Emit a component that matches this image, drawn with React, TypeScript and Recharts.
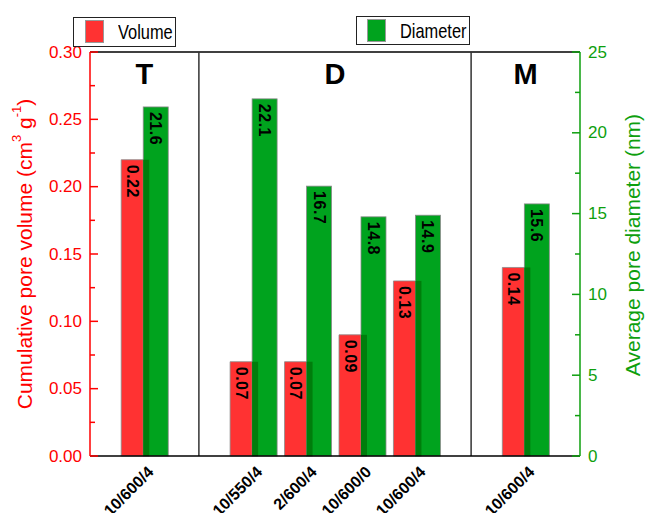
import React from "react";
import { ComposedChart, Bar, XAxis, YAxis, ReferenceLine, LabelList } from "recharts";

// sample conditions, grouped by synthesis series
const SAMPLES = ["10/600/4", "10/550/4", "2/600/4", "10/600/0", "10/600/4", "10/600/4"];
const GROUPS = ["T", "D", "D", "D", "D", "M"];
const VOLUME = [0.22, 0.07, 0.07, 0.09, 0.13, 0.14];
const DIAMETER = [21.6, 22.1, 16.7, 14.8, 14.9, 15.6];

const VOLUME_TICKS = [0, 0.05, 0.1, 0.15, 0.2, 0.25, 0.3];
const VOLUME_MINOR = [0.025, 0.075, 0.125, 0.175, 0.225, 0.275];
const DIAMETER_TICKS = [0, 5, 10, 15, 20, 25];
const DIAMETER_MINOR = [2.5, 7.5, 12.5, 17.5, 22.5];

const VOL_MAX = 0.3;
const DIA_MAX = 25;

const RED = "#FF3232";
const GREEN = "#00A31E";
const DARK_GREEN = "#007D0C";
const AXIS_RED = "#FF0000";
const AXIS_GREEN = "#0E9F0E";
const OVERLAP = 6;
const FONT = "'Liberation Sans', Arial, sans-serif";

// one empty slot between groups and at both ends
let slot = 0;
const data = SAMPLES.map((sample, i) => {
  if (i > 0 && GROUPS[i] !== GROUPS[i - 1]) slot += 1;
  slot += 1;
  return { pos: slot, sample, group: GROUPS[i], volume: VOLUME[i], diameter: DIAMETER[i] };
});
const maxPos = slot + 1;

const dividers: number[] = [];
data.forEach((d, i) => {
  if (i > 0 && d.group !== data[i - 1].group) dividers.push((d.pos + data[i - 1].pos) / 2);
});

const groupCenters = Array.from(new Set(GROUPS)).map((g) => {
  const items = data.filter((d) => d.group === g);
  return { name: g, pos: items.reduce((s, d) => s + d.pos, 0) / items.length };
});

const isIn = (list: number[], v: number) => list.some((t) => Math.abs(t - v) < 1e-9);

const LeftTick = (props: any) => {
  const { x, y, payload } = props;
  const major = isIn(VOLUME_TICKS, payload.value);
  return (
    <g>
      <line x1={x} x2={x + (major ? 8 : 5)} y1={y} y2={y} stroke={AXIS_RED} strokeWidth={1.5} />
      {major && (
        <text x={x - 8} y={y} textAnchor="end" dominantBaseline="central" fill={AXIS_RED} fontSize={17} fontFamily={FONT}>
          {payload.value.toFixed(2)}
        </text>
      )}
    </g>
  );
};

const RightTick = (props: any) => {
  const { x, y, payload } = props;
  const major = isIn(DIAMETER_TICKS, payload.value);
  return (
    <g>
      <line x1={x - (major ? 8 : 5)} x2={x} y1={y} y2={y} stroke={AXIS_GREEN} strokeWidth={1.5} />
      {major && (
        <text x={x + 8} y={y} textAnchor="start" dominantBaseline="central" fill={AXIS_GREEN} fontSize={17} fontFamily={FONT}>
          {payload.value}
        </text>
      )}
    </g>
  );
};

const SampleTick = (props: any) => {
  const { x, y, payload } = props;
  const item = data.find((d) => d.pos === payload.value);
  const tx = x + 10;
  const ty = y + 17;
  return (
    <text x={tx} y={ty} transform={`rotate(-45, ${tx}, ${ty})`} textAnchor="end" fontSize={16} fontWeight="bold" fontFamily={FONT} fill="#000">
      {item ? item.sample : ""}
    </text>
  );
};

const DiameterShape = (props: any) => {
  const { x, y, width, height, payload } = props;
  let redH = (height * (payload.volume / VOL_MAX)) / (payload.diameter / DIA_MAX);
  if (redH > height) redH = height;
  return (
    <g>
      <rect x={x} y={y} width={width} height={height} fill={GREEN} stroke="#8a8a8a" strokeWidth={0.8} />
      <rect x={x} y={y + height - redH} width={OVERLAP} height={redH} fill={DARK_GREEN} />
    </g>
  );
};

const barLabel = (digits: number, shift: (w: number) => number) => (props: any) => {
  const x = Number(props.x);
  const y = Number(props.y);
  const w = Number(props.width);
  const cx = x + shift(w);
  const ty = y + 5;
  return (
    <text x={cx} y={ty} transform={`rotate(90, ${cx}, ${ty})`} textAnchor="start" dominantBaseline="central" fontSize={16} fontWeight="bold" letterSpacing={0.5} fontFamily={FONT} fill="#000">
      {Number(props.value).toFixed(digits)}
    </text>
  );
};

const volumeLabel = barLabel(2, (w) => (w - OVERLAP) / 2);
const diameterLabel = barLabel(1, (w) => w / 2);

const LeftTitle = (props: any) => {
  const vb = props.viewBox || {};
  const cx = vb.x + 24;
  const cy = vb.y + vb.height / 2;
  return (
    <text x={cx} y={cy} transform={`rotate(-90, ${cx}, ${cy})`} textAnchor="middle" dominantBaseline="central" fill={AXIS_RED} fontSize={21} fontFamily={FONT}>
      Cumulative pore volume (cm
      <tspan dy={-8} fontSize={13}>3</tspan>
      <tspan dy={8}> g</tspan>
      <tspan dy={-8} fontSize={13}>-1</tspan>
      <tspan dy={8}>)</tspan>
    </text>
  );
};

const RightTitle = (props: any) => {
  const vb = props.viewBox || {};
  const cx = vb.x + 52;
  const cy = vb.y + vb.height / 2 - 9;
  return (
    <text x={cx} y={cy} transform={`rotate(-90, ${cx}, ${cy})`} textAnchor="middle" dominantBaseline="central" fill={AXIS_GREEN} fontSize={21} fontFamily={FONT}>
      Average pore diameter (nm)
    </text>
  );
};

const groupLabel = (name: string) => (props: any) => {
  const vb = props.viewBox || {};
  const cx = vb.x + (vb.width || 0) / 2;
  return (
    <text x={cx} y={vb.y + 32} textAnchor="middle" fontSize={29} fontWeight="bold" fontFamily={FONT} fill="#000">
      {name}
    </text>
  );
};

const LegendBox = ({ left, top, width, height, color, text, swLeft }: any) => (
  <div
    style={{
      position: "absolute",
      left,
      top,
      width,
      height,
      boxSizing: "border-box",
      border: "1px solid #222",
      background: "#fff",
    }}
  >
    <div
      style={{
        position: "absolute",
        left: swLeft,
        top: 2,
        width: 19,
        height: 23,
        background: color,
        border: "1px solid #999",
        boxSizing: "border-box",
      }}
    />
    <span
      style={{
        position: "absolute",
        left: swLeft + 33,
        top: 0,
        height: height - 2,
        lineHeight: `${height - 2}px`,
        fontSize: 21,
        fontFamily: FONT,
        color: "#000",
        whiteSpace: "nowrap",
        transform: "scaleX(0.78)",
        transformOrigin: "left center",
      }}
    >
      {text}
    </span>
  </div>
);

export default function App() {
  return (
    <div style={{ position: "absolute", left: 0, top: 0, width: 645, height: 513, fontFamily: FONT, background: "#fff" }}>
      <ComposedChart width={645} height={513} data={data} margin={{ top: 52, right: 0, bottom: 0, left: 0 }} barGap={-OVERLAP}>
        <XAxis
          xAxisId="x"
          type="number"
          dataKey="pos"
          domain={[0, maxPos]}
          ticks={data.map((d) => d.pos)}
          interval={0}
          height={57}
          tickLine={false}
          tickSize={0}
          tickMargin={0}
          tick={(p: any) => <SampleTick {...p} />}
          axisLine={{ stroke: "#000", strokeWidth: 1.5 }}
        />
        <YAxis
          yAxisId="left"
          orientation="left"
          type="number"
          domain={[0, VOL_MAX]}
          ticks={[...VOLUME_TICKS, ...VOLUME_MINOR].sort((a, b) => a - b)}
          interval={0}
          width={90}
          tickLine={false}
          tickSize={0}
          tickMargin={0}
          tick={(p: any) => <LeftTick {...p} />}
          axisLine={{ stroke: AXIS_RED, strokeWidth: 1.5 }}
          label={(p: any) => <LeftTitle {...p} />}
        />
        <YAxis
          yAxisId="right"
          orientation="right"
          type="number"
          domain={[0, DIA_MAX]}
          ticks={[...DIAMETER_TICKS, ...DIAMETER_MINOR].sort((a, b) => a - b)}
          interval={0}
          width={65}
          tickLine={false}
          tickSize={0}
          tickMargin={0}
          tick={(p: any) => <RightTick {...p} />}
          axisLine={{ stroke: AXIS_GREEN, strokeWidth: 1.5 }}
          label={(p: any) => <RightTitle {...p} />}
        />
        <ReferenceLine xAxisId="x" yAxisId="left" y={VOL_MAX} stroke="#000" strokeWidth={1.5} />
        {dividers.map((d) => (
          <ReferenceLine key={`div-${d}`} xAxisId="x" yAxisId="left" x={d} stroke="#333" strokeWidth={1.5} />
        ))}
        {groupCenters.map((g) => (
          <ReferenceLine key={`g-${g.name}`} xAxisId="x" yAxisId="left" x={g.pos} stroke="none" label={groupLabel(g.name)} />
        ))}
        <Bar
          xAxisId="x"
          yAxisId="left"
          dataKey="volume"
          barSize={28}
          fill={RED}
          stroke="#8a8a8a"
          strokeWidth={0.8}
          isAnimationActive={false}
        >
          <LabelList dataKey="volume" content={volumeLabel} />
        </Bar>
        <Bar
          xAxisId="x"
          yAxisId="right"
          dataKey="diameter"
          barSize={25}
          fill={GREEN}
          shape={(p: any) => <DiameterShape {...p} />}
          isAnimationActive={false}
        >
          <LabelList dataKey="diameter" content={diameterLabel} />
        </Bar>
      </ComposedChart>
      <LegendBox left={73} top={17} width={103} height={30} color={RED} text="Volume" swLeft={11} />
      <LegendBox left={356} top={16} width={114} height={29} color={GREEN} text="Diameter" swLeft={10} />
    </div>
  );
}
